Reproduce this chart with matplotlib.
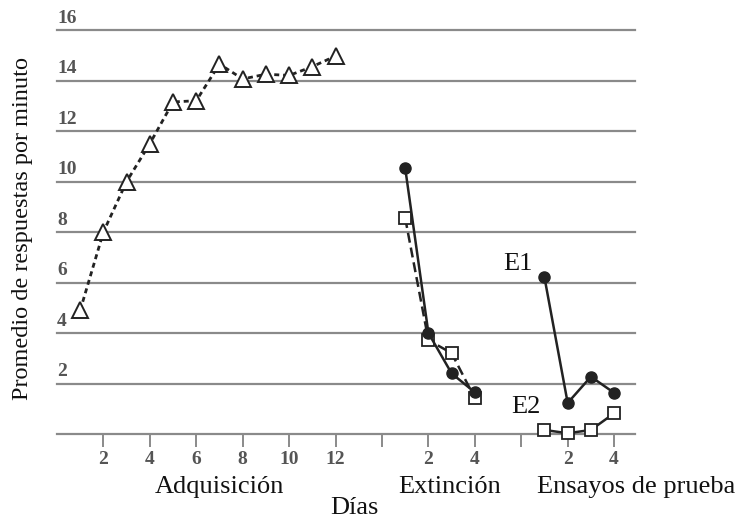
import matplotlib
matplotlib.use("Agg")
import matplotlib.pyplot as plt
from matplotlib.transforms import ScaledTranslation

# ---- data ----
acq_days = [1, 2, 3, 4, 5, 6, 7, 8, 9, 10, 11, 12]
acq_vals = [4.9, 8.0, 10.0, 11.5, 13.15, 13.2, 14.65, 14.06, 14.25, 14.2, 14.55, 14.97]

ext_days = [1, 2, 3, 4]
ext_e1 = [10.53, 4.0, 2.4, 1.65]
ext_e2 = [8.55, 3.72, 3.2, 1.42]

test_days = [1, 2, 3, 4]
test_e1 = [6.2, 1.23, 2.27, 1.63]
test_e2 = [0.16, 0.03, 0.16, 0.82]

y_ticks = [2, 4, 6, 8, 10, 12, 14, 16]
x_tick_labels = ["2", "4", "6", "8", "10", "12", "", "2", "4", "", "2", "4"]

# continuous position offsets for each phase
ext_offset = 14
test_offset = 20

W, H = 741, 522
fig = plt.figure(figsize=(W / 100, H / 100), dpi=100)
serif = ["Liberation Serif", "DejaVu Serif"]

left, right = 57, 635
y0px, y16px = 434, 30
ax = fig.add_axes([left / W, 1 - y0px / H, (right - left) / W, (y0px - y16px) / H])
ax.set_xlim(0, 24.9)
ax.set_ylim(0, 16)
for s in ax.spines.values():
    s.set_visible(False)

grid_c = "#8a8a8a"
for v in [0] + y_ticks:
    ax.axhline(v, color=grid_c, lw=1.6, zorder=1, clip_on=False)

# y ticks (labels sit above lines, left aligned)
ax.set_yticks(y_ticks)
ax.set_yticklabels([str(v) for v in y_ticks], fontfamily=serif, fontsize=14,
                   fontweight="bold", color="#555555")
ax.tick_params(axis="y", length=0, pad=0)
for lab in ax.get_yticklabels():
    lab.set_horizontalalignment("left")
    lab.set_verticalalignment("bottom")
    lab.set_transform(lab.get_transform() + ScaledTranslation(0.0, 2.5 / 72, fig.dpi_scale_trans))

# x ticks
xt = list(range(2, 25, 2))
ax.set_xticks(xt)
ax.set_xticklabels(x_tick_labels, fontfamily=serif, fontsize=14,
                   fontweight="bold", color="#555555")
ax.tick_params(axis="x", length=9.5, width=1.4, color=grid_c, direction="out", pad=2.5)

line_c = "#222222"
# acquisition
ax.plot(acq_days, acq_vals, color=line_c, lw=2.0, ls=(0, (1.8, 1.4)),
        marker="^", ms=11, mfc="white", mec=line_c, mew=1.4, zorder=3, clip_on=False)

# extinction
ex_x = [d + ext_offset for d in ext_days]
ax.plot(ex_x, ext_e2, color=line_c, lw=1.8, ls=(0, (4, 2)),
        marker="s", ms=9, mfc="white", mec=line_c, mew=1.3, zorder=3, clip_on=False)
ax.plot(ex_x, ext_e1, color=line_c, lw=1.8, ls="-",
        marker="o", ms=8, mfc=line_c, mec=line_c, zorder=4, clip_on=False)

# test trials
te_x = [d + test_offset for d in test_days]
ax.plot(te_x, test_e1, color=line_c, lw=1.8, ls="-",
        marker="o", ms=8, mfc=line_c, mec=line_c, zorder=4, clip_on=False)
ax.plot(te_x, test_e2, color=line_c, lw=1.8, ls="-",
        marker="s", ms=9, mfc="white", mec=line_c, mew=1.3, zorder=3, clip_on=False)

# annotations
ax.text(19.84, 6.73, "E1", fontfamily=serif, fontsize=19, ha="center", va="center", color="#111111")
ax.text(20.22, 1.07, "E2", fontfamily=serif, fontsize=19, ha="center", va="center", color="#111111")

# phase labels
lab_kw = dict(fontfamily=serif, fontsize=19, color="#111111", ha="center", va="center")
fig.text(219 / W, 1 - 487 / H, "Adquisición", **lab_kw)
fig.text(450 / W, 1 - 487 / H, "Extinción", **lab_kw)
fig.text(636 / W, 1 - 487 / H, "Ensayos de prueba", **lab_kw)
fig.text(354 / W, 1 - 508 / H, "Días", **lab_kw)
ylab_kw = dict(lab_kw)
ylab_kw["fontsize"] = 17.5
fig.text(23 / W, 1 - 228 / H, "Promedio de respuestas por minuto", rotation=90, **ylab_kw)

fig.savefig("out.png", dpi=100)
